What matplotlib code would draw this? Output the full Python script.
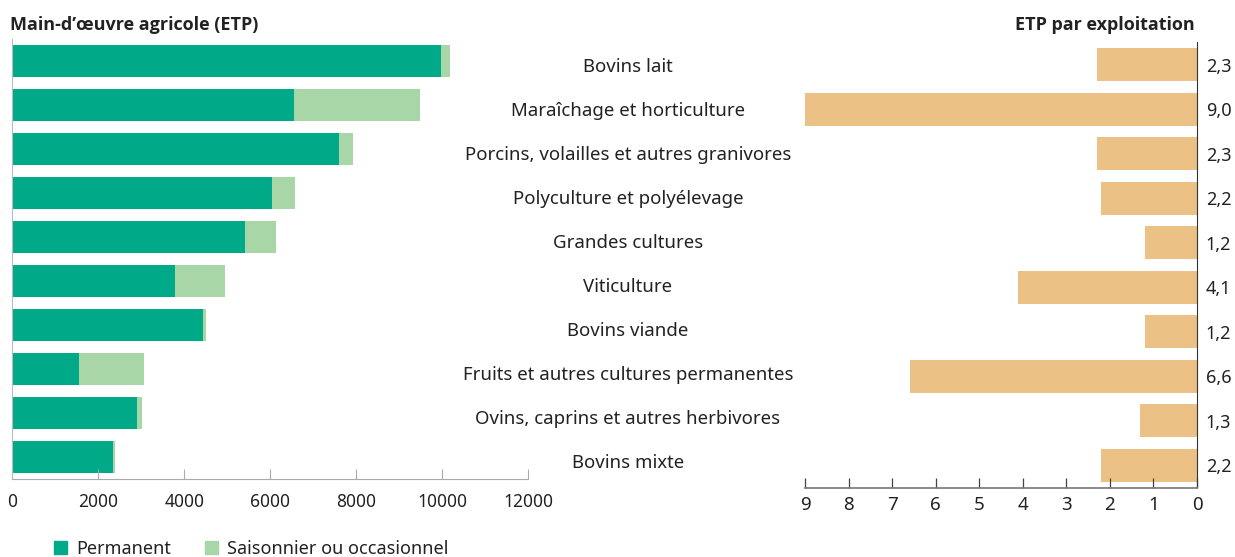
import matplotlib.pyplot as plt
from matplotlib.patches import Patch
from matplotlib.transforms import blended_transform_factory

# Données
categories = ["Bovins lait", "Maraîchage et horticulture",
              "Porcins, volailles et autres granivores", "Polyculture et polyélevage",
              "Grandes cultures", "Viticulture", "Bovins viande",
              "Fruits et autres cultures permanentes",
              "Ovins, caprins et autres herbivores", "Bovins mixte"]
permanent = [9970, 6550, 7600, 6040, 5410, 3785, 4430, 1550, 2905, 2345]
saisonnier = [225, 2930, 320, 535, 720, 1160, 75, 1510, 115, 45]
etp_par_expl = [2.3, 9.0, 2.3, 2.2, 1.2, 4.1, 1.2, 6.6, 1.3, 2.2]
left_ticks = [0, 2000, 4000, 6000, 8000, 10000, 12000]
right_ticks = [9, 8, 7, 6, 5, 4, 3, 2, 1, 0]

c_perm = "#00A987"
c_sais = "#A9D6A6"
c_etp = "#EBC185"
c_text = "#222222"

plt.rcParams['font.family'] = ['Noto Sans', 'DejaVu Sans']

W, H = 1235, 557
fig = plt.figure(figsize=(W / 100, H / 100), dpi=100)

ypos = list(range(len(categories)))

# Panneau gauche : main-d'oeuvre
ax1 = fig.add_axes([12.3 / W, 1 - 479 / H, (528 - 12.3) / W, 440 / H])
ax1.barh(ypos, permanent, height=0.72, color=c_perm)
ax1.barh(ypos, saisonnier, left=permanent, height=0.72, color=c_sais)
ax1.set_xlim(0, 12000)
ax1.set_ylim(9.5, -0.5)
ax1.set_xticks(left_ticks)
ax1.set_xticklabels([str(t) for t in left_ticks], fontsize=12.5, color=c_text)
ax1.set_yticks([])
ax1.tick_params(axis='x', direction='in', length=7, width=0.8, color='#aaaaaa', pad=10)
for s in ['top', 'right']:
    ax1.spines[s].set_visible(False)
ax1.spines['left'].set_color('#bbbbbb')
ax1.spines['bottom'].set_color('#aaaaaa')

# Panneau droit : ETP par exploitation
ax2 = fig.add_axes([805 / W, 1 - 487.5 / H, 392 / W, 445 / H])
ax2.barh(ypos, etp_par_expl, height=0.75, color=c_etp)
ax2.set_xlim(9, 0)
ax2.set_ylim(9.5, -0.5)
ax2.set_xticks(right_ticks)
ax2.set_xticklabels([str(t) for t in right_ticks], fontsize=13.5, color=c_text)
ax2.set_yticks([])
ax2.tick_params(axis='x', direction='in', length=7, width=0.9, color='#444444', pad=6)
for s in ['top', 'left']:
    ax2.spines[s].set_visible(False)
ax2.spines['right'].set_color('#333333')
ax2.spines['bottom'].set_color('#777777')
ax2.spines['bottom'].set_linewidth(1.2)

for i, v in enumerate(etp_par_expl):
    ax2.text(-0.2, i + 0.04, f"{v:.1f}".replace('.', ','), ha='left', va='center',
             fontsize=13, color=c_text, clip_on=False)

# Libellés des catégories au centre
trans = blended_transform_factory(fig.transFigure, ax1.transData)
for i, cat in enumerate(categories):
    fig.text(628 / W, i + 0.13, cat, transform=trans, ha='center', va='center',
             fontsize=13.4, color=c_text)

# Titres
fig.text(10 / W, 1 - 25 / H, "Main-d\u2019œuvre agricole (ETP)", ha='left', va='center',
         fontsize=13, fontweight='bold', color=c_text, family=['Open Sans', 'DejaVu Sans'])
fig.text(1195 / W, 1 - 25 / H, "ETP par exploitation", ha='right', va='center',
         fontsize=13, fontweight='bold', color=c_text, family=['Open Sans', 'DejaVu Sans'])

# Légende
handles = [Patch(color=c_perm, label="Permanent"),
           Patch(color=c_sais, label="Saisonnier ou occasionnel")]
fig.legend(handles=handles, loc='center left', bbox_to_anchor=(38 / W, 1 - 549 / H),
           ncol=2, frameon=False, fontsize=13, handlelength=0.7, handleheight=0.7,
           handletextpad=0.5, columnspacing=1.9, labelcolor=c_text)

fig.savefig("out.png", dpi=100)
